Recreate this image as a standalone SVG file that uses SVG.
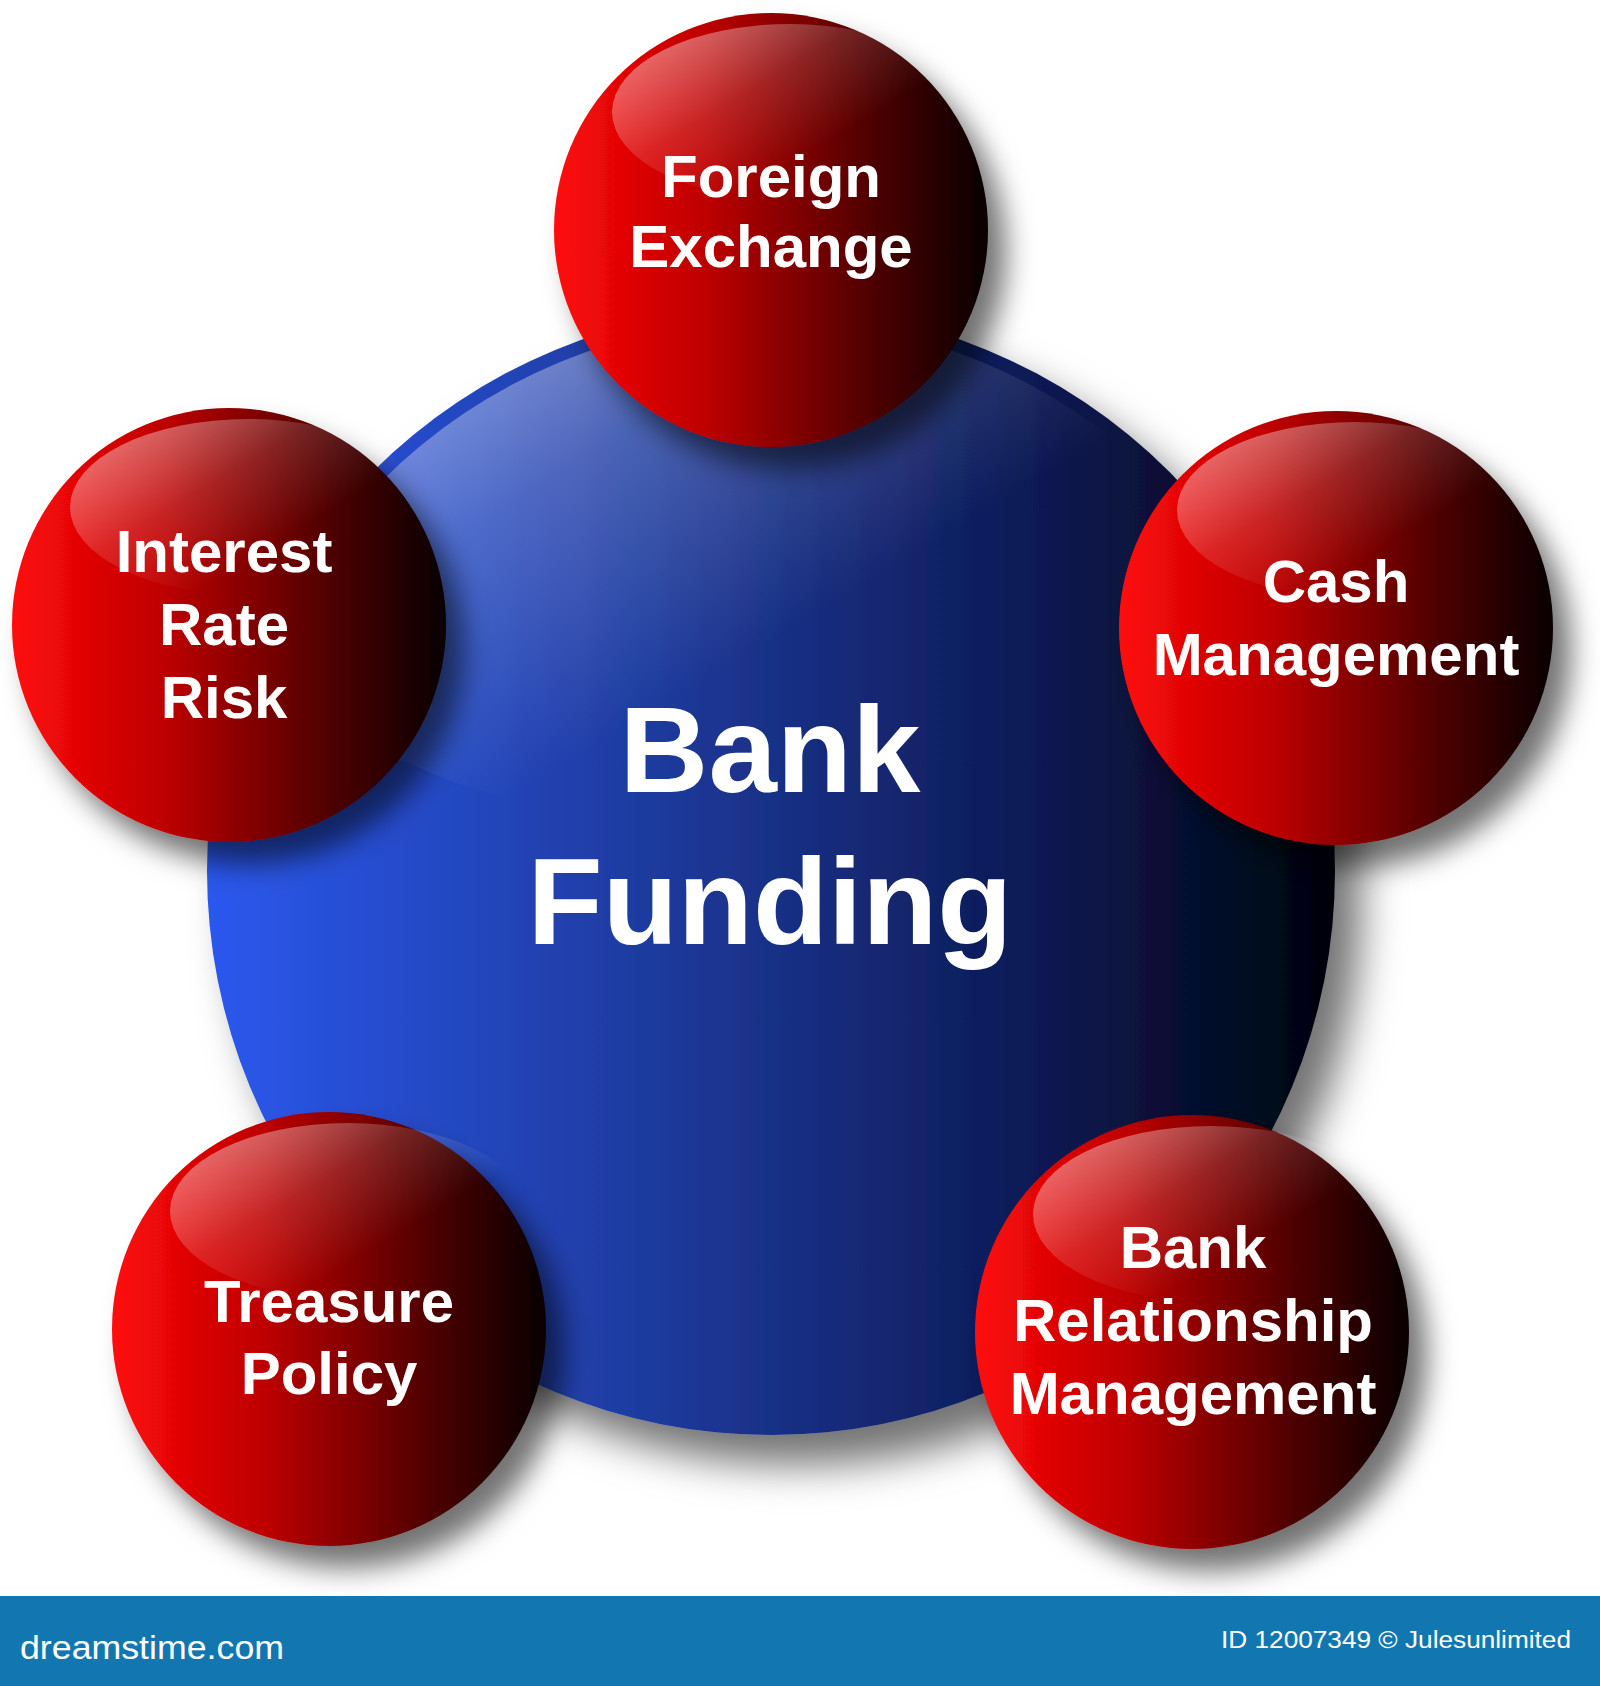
<svg xmlns="http://www.w3.org/2000/svg" width="1600" height="1686" viewBox="0 0 1600 1686">
  <defs>
    <linearGradient id="blueFill" x1="0" y1="0" x2="1" y2="0">
      <stop offset="0" stop-color="#2b58ee"/>
      <stop offset="0.4" stop-color="#1e3a9c"/>
      <stop offset="0.75" stop-color="#0c1850"/>
      <stop offset="1" stop-color="#00030c"/>
    </linearGradient>
    <linearGradient id="blueHi" x1="0" y1="0.1" x2="0.8" y2="0.75">
      <stop offset="0" stop-color="#ffffff" stop-opacity="0.55"/>
      <stop offset="0.35" stop-color="#ffffff" stop-opacity="0.2"/>
      <stop offset="0.7" stop-color="#ffffff" stop-opacity="0"/>
    </linearGradient>
    <linearGradient id="redFill" x1="0" y1="0" x2="1" y2="0">
      <stop offset="0" stop-color="#ff0a0a"/>
      <stop offset="0.35" stop-color="#be0000"/>
      <stop offset="0.72" stop-color="#520000"/>
      <stop offset="1" stop-color="#080000"/>
    </linearGradient>
    <linearGradient id="redHi" x1="0" y1="0.2" x2="0.8" y2="0.85">
      <stop offset="0" stop-color="#ffffff" stop-opacity="0.45"/>
      <stop offset="0.4" stop-color="#ffffff" stop-opacity="0.14"/>
      <stop offset="0.75" stop-color="#ffffff" stop-opacity="0"/>
    </linearGradient>
    <filter id="bigShadow" x="-20%" y="-20%" width="150%" height="150%">
      <feGaussianBlur in="SourceAlpha" stdDeviation="20"/>
      <feOffset dx="26" dy="30" result="b"/>
      <feFlood flood-color="#000000" flood-opacity="0.55"/>
      <feComposite in2="b" operator="in"/>
      <feMerge><feMergeNode/><feMergeNode in="SourceGraphic"/></feMerge>
    </filter>
    <filter id="shadow" x="-30%" y="-30%" width="170%" height="170%">
      <feGaussianBlur in="SourceAlpha" stdDeviation="14"/>
      <feOffset dx="18" dy="22" result="b"/>
      <feFlood flood-color="#000000" flood-opacity="0.55"/>
      <feComposite in2="b" operator="in"/>
      <feMerge><feMergeNode/><feMergeNode in="SourceGraphic"/></feMerge>
    </filter>
    <clipPath id="blueClip"><circle cx="771" cy="871" r="551"/></clipPath>
    <style>
      .red { fill: url(#redFill); filter: url(#shadow); }
      .rhi { fill: url(#redHi); }
      .lbl { font-family: "Liberation Sans", Arial, sans-serif; font-weight: bold; font-size: 60px; fill: #ffffff; text-anchor: middle; }
      .big { font-family: "Liberation Sans", Arial, sans-serif; font-weight: bold; font-size: 123px; fill: #ffffff; text-anchor: middle; }
      .foot { font-family: "Liberation Sans", Arial, sans-serif; fill: #ffffff; }
    </style>
  </defs>

  <rect x="0" y="0" width="1600" height="1686" fill="#ffffff"/>

  <g id="connectors"/>

  <g id="bank-funding">
    <circle cx="771" cy="871" r="564" fill="url(#blueFill)" filter="url(#bigShadow)"/>
    <ellipse cx="771" cy="575" rx="530" ry="258" fill="url(#blueHi)" clip-path="url(#blueClip)"/>
    <text class="big" x="770" y="792">Bank</text>
    <text class="big" x="770" y="944">Funding</text>
  </g>

  <g id="foreign-exchange">
    <circle class="red" cx="771" cy="230" r="217"/>
    <ellipse class="rhi" cx="790" cy="112" rx="178" ry="88"/>
    <text class="lbl" x="771" y="197">Foreign</text>
    <text class="lbl" x="771" y="267">Exchange</text>
  </g>

  <g id="interest-rate-risk">
    <circle class="red" cx="229" cy="625" r="217"/>
    <ellipse class="rhi" cx="248" cy="507" rx="178" ry="88"/>
    <text class="lbl" x="224" y="572">Interest</text>
    <text class="lbl" x="224" y="645">Rate</text>
    <text class="lbl" x="224" y="718">Risk</text>
  </g>

  <g id="cash-management">
    <circle class="red" cx="1336" cy="628" r="217"/>
    <ellipse class="rhi" cx="1355" cy="510" rx="178" ry="88"/>
    <text class="lbl" x="1336" y="602">Cash</text>
    <text class="lbl" x="1336" y="675">Management</text>
  </g>

  <g id="treasure-policy">
    <circle class="red" cx="329" cy="1329" r="217"/>
    <ellipse class="rhi" cx="348" cy="1211" rx="178" ry="88"/>
    <text class="lbl" x="329" y="1322">Treasure</text>
    <text class="lbl" x="329" y="1394">Policy</text>
  </g>

  <g id="bank-relationship-management">
    <circle class="red" cx="1192" cy="1332" r="217"/>
    <ellipse class="rhi" cx="1211" cy="1214" rx="178" ry="88"/>
    <text class="lbl" x="1193" y="1268">Bank</text>
    <text class="lbl" x="1193" y="1341">Relationship</text>
    <text class="lbl" x="1193" y="1414">Management</text>
  </g>

  <g id="footer">
    <rect x="0" y="1596" width="1600" height="90" fill="#1277b1"/>
    <text class="foot" x="20" y="1659" font-size="34" textLength="264" lengthAdjust="spacingAndGlyphs">dreamstime.com</text>
    <text class="foot" x="1221" y="1648" font-size="23" textLength="350" lengthAdjust="spacingAndGlyphs">ID 12007349 © Julesunlimited</text>
  </g>
</svg>
